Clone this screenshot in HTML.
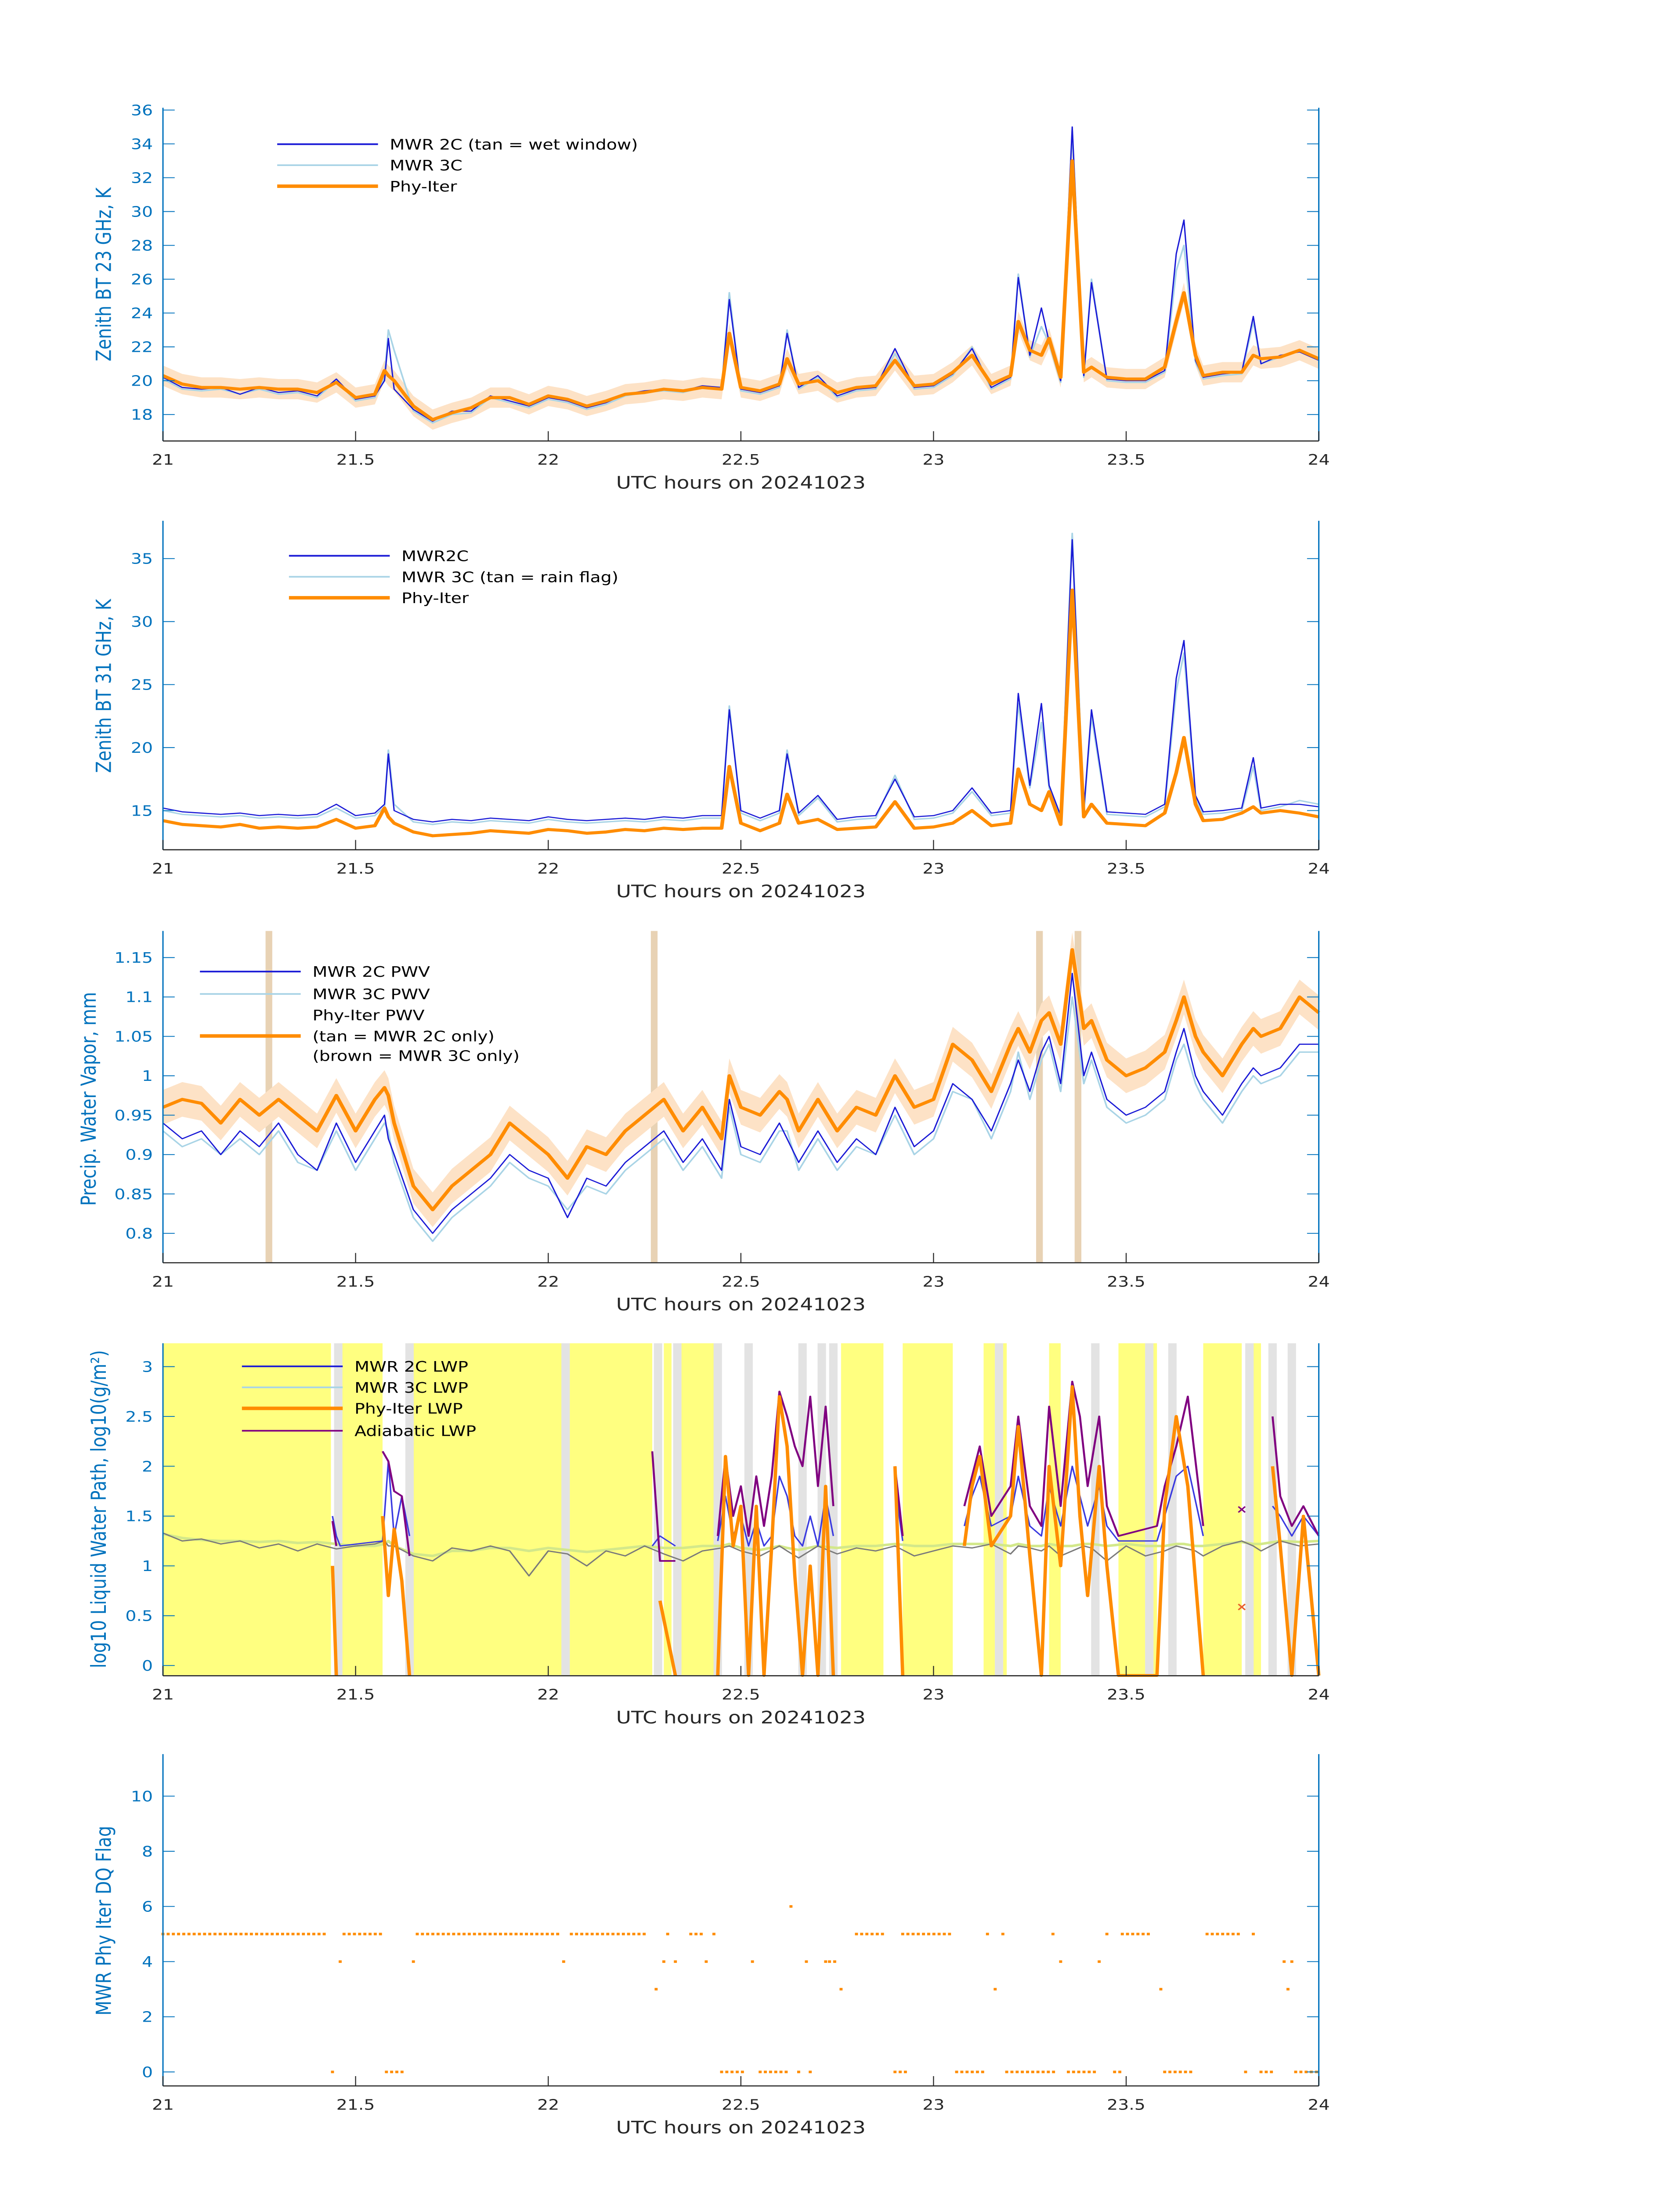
<!DOCTYPE html>
<html><head><meta charset="utf-8"><style>
html,body{margin:0;padding:0;background:#fff;overflow:hidden;width:100%;height:100%}
svg{display:block;width:100vw;height:100vh}
text{font-family:"DejaVu Sans","Liberation Sans",sans-serif}
</style></head><body>
<svg id="fig" xmlns="http://www.w3.org/2000/svg" viewBox="0 0 1000 1568.63" preserveAspectRatio="none"></svg>
<script>
// ---------- DATA ----------
const T = [21,21.05,21.1,21.15,21.2,21.25,21.3,21.35,21.4,21.45,21.5,21.55,21.575,21.585,21.6,21.65,21.7,21.75,21.8,21.85,21.9,21.95,22,22.05,22.1,22.15,22.2,22.25,22.3,22.35,22.4,22.45,22.47,22.5,22.55,22.6,22.62,22.65,22.7,22.75,22.8,22.85,22.9,22.95,23,23.05,23.1,23.15,23.2,23.22,23.25,23.28,23.3,23.33,23.36,23.39,23.41,23.45,23.5,23.55,23.6,23.63,23.65,23.68,23.7,23.75,23.8,23.83,23.85,23.9,23.95,24];
// panel 1: 23 GHz BT
const phy23 = [20.3,19.8,19.6,19.6,19.5,19.6,19.5,19.5,19.3,19.9,19.0,19.2,20.6,20.3,20.0,18.5,17.7,18.1,18.4,19.0,19.0,18.6,19.1,18.9,18.5,18.8,19.2,19.3,19.5,19.4,19.6,19.5,22.8,19.6,19.4,19.8,21.3,19.8,20.0,19.3,19.6,19.7,21.2,19.7,19.8,20.5,21.5,19.8,20.3,23.5,21.8,21.5,22.5,20.2,33.0,20.5,20.8,20.2,20.1,20.1,20.8,23.5,25.2,21.5,20.3,20.5,20.5,21.5,21.3,21.4,21.8,21.3];
const mwr2c23 = [20.2,19.6,19.5,19.6,19.2,19.6,19.3,19.4,19.1,20.1,18.9,19.1,20.0,22.5,19.5,18.3,17.6,18.2,18.2,19.1,18.8,18.5,19.0,18.8,18.4,18.7,19.2,19.4,19.5,19.4,19.7,19.6,24.8,19.5,19.3,19.7,22.8,19.6,20.3,19.1,19.5,19.6,21.9,19.6,19.7,20.4,21.9,19.6,20.2,26.1,21.5,24.3,22.3,20.0,35.0,20.3,25.8,20.1,20.0,20.0,20.6,27.5,29.5,21.2,20.2,20.4,20.5,23.8,21.0,21.5,21.7,21.2];
const mwr3c23 = [20.1,19.5,19.4,19.5,19.2,19.5,19.2,19.3,19.0,20.0,18.8,19.0,20.2,23.0,21.8,18.2,17.5,18.0,18.1,19.0,18.7,18.4,18.9,18.7,18.3,18.6,19.1,19.3,19.4,19.3,19.6,19.5,25.2,19.4,19.2,19.6,23.0,19.5,20.2,19.0,19.4,19.5,21.6,19.5,19.6,20.3,22.0,19.5,20.1,26.3,21.4,23.2,22.2,19.9,34.8,20.2,26.0,20.0,19.9,19.9,20.5,26.5,28.0,21.1,20.1,20.3,20.4,23.5,21.0,21.4,21.8,21.3];
// panel 2: 31 GHz BT
const phy31 = [14.2,13.9,13.8,13.7,13.9,13.6,13.7,13.6,13.7,14.3,13.6,13.8,15.2,14.5,14.0,13.3,13.0,13.1,13.2,13.4,13.3,13.2,13.5,13.4,13.2,13.3,13.5,13.4,13.6,13.5,13.6,13.6,18.5,14.0,13.4,14.0,16.3,14.0,14.3,13.5,13.6,13.7,15.7,13.6,13.7,14.0,15.0,13.8,14.0,18.3,15.5,15.0,16.5,13.9,32.5,14.5,15.5,14.0,13.9,13.8,14.8,18.0,20.8,15.5,14.2,14.3,14.8,15.3,14.8,15.0,14.8,14.5];
const mwr2c31 = [15.2,14.9,14.8,14.7,14.8,14.6,14.7,14.6,14.7,15.5,14.6,14.8,15.5,19.5,15.0,14.3,14.1,14.3,14.2,14.4,14.3,14.2,14.5,14.3,14.2,14.3,14.4,14.3,14.5,14.4,14.6,14.6,23.0,15.0,14.4,15.0,19.5,14.8,16.2,14.3,14.5,14.6,17.5,14.5,14.6,15.0,16.8,14.8,15.0,24.3,17.0,23.5,17.0,14.6,36.5,15.0,23.0,14.9,14.8,14.7,15.5,25.5,28.5,16.2,14.9,15.0,15.2,19.2,15.2,15.5,15.5,15.3];
const mwr3c31 = [15.0,14.7,14.6,14.5,14.6,14.4,14.5,14.4,14.5,15.2,14.4,14.6,15.3,19.8,15.5,14.1,13.9,14.1,14.0,14.2,14.1,14.0,14.3,14.1,14.0,14.1,14.2,14.1,14.3,14.2,14.4,14.4,23.3,14.8,14.2,14.8,19.8,14.6,16.0,14.1,14.3,14.4,17.8,14.3,14.4,14.8,16.5,14.6,14.8,23.5,16.8,22.0,16.8,14.4,37.0,14.8,22.5,14.7,14.6,14.5,15.3,24.5,27.5,16.0,14.7,14.8,15.0,18.5,15.0,15.3,15.8,15.5];
// panel 3: PWV
const phyPwv = [0.96,0.97,0.965,0.94,0.97,0.95,0.97,0.95,0.93,0.975,0.93,0.97,0.985,0.975,0.94,0.86,0.83,0.86,0.88,0.9,0.94,0.92,0.9,0.87,0.91,0.9,0.93,0.95,0.97,0.93,0.96,0.92,1.0,0.96,0.95,0.98,0.97,0.93,0.97,0.93,0.96,0.95,1.0,0.96,0.97,1.04,1.02,0.98,1.04,1.06,1.03,1.07,1.08,1.04,1.16,1.06,1.07,1.02,1.0,1.01,1.03,1.07,1.1,1.05,1.03,1.0,1.04,1.06,1.05,1.06,1.1,1.08];
const mwr2cPwv = [0.94,0.92,0.93,0.9,0.93,0.91,0.94,0.9,0.88,0.94,0.89,0.93,0.95,0.92,0.9,0.83,0.8,0.83,0.85,0.87,0.9,0.88,0.87,0.82,0.87,0.86,0.89,0.91,0.93,0.89,0.92,0.88,0.97,0.91,0.9,0.94,0.92,0.89,0.93,0.89,0.92,0.9,0.96,0.91,0.93,0.99,0.97,0.93,0.99,1.02,0.98,1.03,1.05,0.99,1.13,1.0,1.03,0.97,0.95,0.96,0.98,1.03,1.06,1.0,0.98,0.95,0.99,1.01,1.0,1.01,1.04,1.04];
const mwr3cPwv = [0.93,0.91,0.92,0.9,0.92,0.9,0.93,0.89,0.88,0.93,0.88,0.92,0.94,0.93,0.89,0.82,0.79,0.82,0.84,0.86,0.89,0.87,0.86,0.83,0.86,0.85,0.88,0.9,0.92,0.88,0.91,0.87,0.96,0.9,0.89,0.93,0.93,0.88,0.92,0.88,0.91,0.9,0.95,0.9,0.92,0.98,0.97,0.92,0.98,1.03,0.97,1.02,1.04,0.98,1.1,0.99,1.02,0.96,0.94,0.95,0.97,1.02,1.04,0.99,0.97,0.94,0.98,1.0,0.99,1.0,1.03,1.03];
const tanTimes = [21.275,22.275,23.275,23.375];
// panel 4: LWP
const lwpGrey = [1.33,1.25,1.27,1.22,1.25,1.18,1.22,1.15,1.22,1.17,1.2,1.22,1.25,1.2,1.2,1.1,1.05,1.18,1.15,1.2,1.15,0.9,1.15,1.12,1.0,1.15,1.1,1.2,1.12,1.05,1.15,1.18,1.2,1.15,1.1,1.2,1.15,1.08,1.2,1.12,1.18,1.15,1.2,1.1,1.15,1.2,1.18,1.22,1.12,1.2,1.18,1.15,1.2,1.1,1.15,1.2,1.18,1.05,1.2,1.1,1.15,1.2,1.18,1.15,1.1,1.2,1.25,1.2,1.15,1.25,1.2,1.22];
const lwpGreen = [1.32,1.28,1.26,1.25,1.25,1.24,1.25,1.23,1.24,1.22,1.2,1.2,1.22,1.25,1.2,1.12,1.1,1.15,1.15,1.18,1.18,1.15,1.18,1.16,1.14,1.16,1.18,1.2,1.18,1.18,1.2,1.2,1.22,1.18,1.16,1.2,1.18,1.16,1.2,1.18,1.2,1.2,1.22,1.2,1.2,1.22,1.22,1.22,1.2,1.22,1.2,1.2,1.22,1.2,1.2,1.22,1.22,1.2,1.22,1.2,1.2,1.22,1.22,1.2,1.2,1.22,1.24,1.22,1.22,1.25,1.24,1.25];
const yellowStart = [21.0,21.465,21.637,22.055,22.30,22.345,22.76,22.92,23.13,23.30,23.48,23.70,23.83];
const yellowEnd   = [21.436,21.57,22.04,22.27,22.32,22.43,22.87,23.05,23.19,23.33,23.58,23.80,23.85];
const greyBands = [21.455,21.64,22.045,22.285,22.335,22.44,22.52,22.66,22.71,22.74,23.17,23.42,23.56,23.62,23.82,23.88,23.93];
const TC = [21.44,21.45,21.46,21.57,21.585,21.6,21.62,21.64,21.65,22.27,22.29,22.33,22.34,22.44,22.46,22.48,22.5,22.52,22.54,22.56,22.58,22.6,22.62,22.64,22.66,22.68,22.7,22.72,22.74,22.76,22.9,22.92,23.05,23.08,23.1,23.12,23.15,23.2,23.22,23.25,23.28,23.3,23.33,23.36,23.38,23.4,23.43,23.45,23.48,23.58,23.6,23.63,23.66,23.7,23.8,23.85,23.88,23.9,23.93,23.96,24];
const lwpPhy = [1.0,-0.1,null,1.5,0.7,1.37,0.85,-0.1,null,null,0.65,-0.1,null,-0.1,2.1,1.2,1.6,-0.1,1.6,-0.1,1.2,2.7,2.2,0.9,-0.1,1.0,-0.1,1.8,-0.1,null,2.0,-0.1,null,1.2,1.8,2.1,1.2,1.5,2.4,1.1,-0.1,2.0,1.0,2.8,1.5,0.7,2.0,1.0,-0.1,-0.1,1.6,2.5,1.8,-0.1,null,null,2.0,1.2,-0.1,1.5,-0.1];
const lwpAdi = [1.45,1.2,null,2.15,2.05,1.75,1.7,1.1,null,2.15,1.05,1.05,null,1.3,2.1,1.5,1.8,1.3,1.9,1.4,1.9,2.75,2.5,2.2,2.0,2.7,1.8,2.6,1.6,null,2.0,1.3,null,1.6,1.9,2.2,1.5,1.8,2.5,1.6,1.4,2.6,1.6,2.85,2.5,1.8,2.5,1.6,1.3,1.4,1.8,2.2,2.7,1.4,null,null,2.5,1.7,1.4,1.6,1.3];
const lwpBlue = [1.5,1.3,1.2,1.25,2.05,1.3,1.7,1.3,null,1.2,1.3,1.2,null,1.25,1.7,1.3,1.5,1.2,1.45,1.2,1.3,1.9,1.7,1.3,1.2,1.5,1.2,1.7,1.3,null,1.8,1.25,null,1.4,1.7,1.9,1.4,1.5,1.9,1.4,1.3,1.8,1.4,2.0,1.7,1.4,1.8,1.4,1.25,1.25,1.5,1.9,2.0,1.3,null,null,1.6,1.5,1.3,1.5,1.3];
// panel 5: DQ flags (runs)
const runStart = [21.0,21.44,21.46,21.47,21.58,21.65,21.66,22.04,22.06,22.28,22.3,22.31,22.33,22.37,22.41,22.43,22.45,22.53,22.55,22.63,22.65,22.67,22.68,22.72,22.73,22.76,22.8,22.9,22.92,23.06,23.14,23.16,23.18,23.19,23.31,23.33,23.35,23.43,23.45,23.47,23.49,23.59,23.6,23.71,23.81,23.83,23.85,23.91,23.92,23.93,23.94];
const runEnd   = [21.43,21.44,21.46,21.57,21.63,21.65,22.03,22.04,22.26,22.28,22.3,22.31,22.34,22.4,22.41,22.43,22.51,22.53,22.62,22.63,22.65,22.67,22.68,22.72,22.75,22.76,22.87,22.93,23.05,23.13,23.14,23.16,23.18,23.32,23.31,23.33,23.42,23.43,23.45,23.49,23.57,23.59,23.68,23.8,23.81,23.83,23.88,23.91,23.92,23.93,24.0];
const runFlag  = [5,0,4,5,0,4,5,4,5,3,4,5,4,5,4,5,0,4,0,6,0,4,0,4,4,3,5,0,5,0,5,3,5,0,5,4,0,4,5,0,5,3,0,5,0,5,0,4,3,4,0];
const xTicks = [21,21.5,22,22.5,23,23.5,24];

// ---------- DRAW ----------
const NS = 'http://www.w3.org/2000/svg';
const fig = document.getElementById('fig');
function mk(tag, attrs, parent){
  const e = document.createElementNS(NS, tag);
  for (const k in attrs) e.setAttribute(k, attrs[k]);
  (parent||fig).appendChild(e);
  return e;
}
const X0 = 97, X1 = 785;
function xs(t){ return X0 + (t-21)/3*(X1-X0); }
function mkY(v1,p1,v2,p2){ return v => p1 + (v-v1)*(p2-p1)/(v2-v1); }
const BLUE = '#0072BD';

function path(ts, vs, y, color, w, name, g){
  let d = '', pen = false;
  for (let i=0;i<ts.length;i++){
    if (vs[i]===null){ pen=false; continue; }
    d += (pen?'L':'M') + xs(ts[i]).toFixed(2) + ',' + y(vs[i]).toFixed(2);
    pen = true;
  }
  const p = mk('path', {d:d, fill:'none', stroke:color, 'stroke-width':w, 'stroke-linejoin':'round'}, g);
  
  
  return p;
}
function band(ts, vs, dv, y, color, name, g){
  let up = '', dn = '';
  for (let i=0;i<ts.length;i++) up += (i?'L':'M') + xs(ts[i]).toFixed(2)+','+y(vs[i]+dv).toFixed(2);
  for (let i=ts.length-1;i>=0;i--) dn += 'L' + xs(ts[i]).toFixed(2)+','+y(vs[i]-dv).toFixed(2);
  const p = mk('path', {d:up+dn+'Z', fill:color, stroke:'none'}, g);
  
  
}
function axes(top, bot, y, yticks, ylab, ylabY, name){
  const g = mk('g', {});
  
  
  mk('line', {x1:X0,y1:top,x2:X0,y2:bot,stroke:BLUE,'stroke-width':0.8}, g);
  mk('line', {x1:X1,y1:top,x2:X1,y2:bot,stroke:BLUE,'stroke-width':0.8}, g);
  mk('line', {x1:X0,y1:bot,x2:X1,y2:bot,stroke:'#262626','stroke-width':0.8}, g);
  for (const v of yticks){
    const yy = y(v);
    mk('line', {x1:X0,y1:yy,x2:X0+7,y2:yy,stroke:BLUE,'stroke-width':0.6}, g);
    mk('line', {x1:X1,y1:yy,x2:X1-7,y2:yy,stroke:BLUE,'stroke-width':0.6}, g);
    const t = mk('text', {x:X0-6,y:yy+3.7,'text-anchor':'end','font-size':10.3,fill:BLUE}, g);
    t.textContent = String(v);
    
    
  }
  for (const v of xTicks){
    const xx = xs(v);
    mk('line', {x1:xx,y1:bot,x2:xx,y2:bot-7,stroke:'#262626','stroke-width':0.6}, g);
    const t = mk('text', {x:xx,y:bot+17,'text-anchor':'middle','font-size':10.3,fill:'#262626'}, g);
    t.textContent = String(v);
    
    
  }
  const xl = mk('text', {x:441,y:bot+34,'text-anchor':'middle','font-size':12.3,fill:'#262626'}, g);
  xl.textContent = 'UTC hours on 20241023';
  
  
  const yl = mk('text', {x:0,y:0,'text-anchor':'middle','font-size':12.3,fill:BLUE,transform:'translate('+ylabY[0]+','+ylabY[1]+') rotate(-90)'}, g);
  yl.textContent = ylab;
  
  
}
function legend(x0, ys, items, g){
  const lg = mk('g', {});
  
  
  items.forEach((it, i) => {
    if (it[1]) mk('line', {x1:x0,y1:ys[i],x2:x0+60,y2:ys[i],stroke:it[1],'stroke-width':it[2]}, lg);
    const t = mk('text', {x:x0+67,y:ys[i]+3.8,'font-size':10.3,fill:'#000'}, lg);
    t.textContent = it[0];
    
    
  });
}

// Panel 1
(function(){
  const y = mkY(36,78.6,18,296.1);
  const g = mk('g', {});  
  band(T, phy23, 0.6, y, '#fde2c6', 'phy-iter-uncertainty-band', g);
  path(T, mwr3c23, y, '#a9d4e6', 1.0, 'mwr-3c-line', g);
  path(T, mwr2c23, y, '#1a1ad6', 0.8, 'mwr-2c-line', g);
  path(T, phy23, y, '#ff8c00', 2.2, 'phy-iter-line', g);
  axes(77, 315, y, [18,20,22,24,26,28,30,32,34,36], 'Zenith BT 23 GHz, K', [66,196], 'panel-23ghz');
  legend(165, [103,118,133], [['MWR 2C (tan = wet window)','#1a1ad6',1.2],['MWR 3C','#a9d4e6',1.2],['Phy-Iter','#ff8c00',2.5]]);
})();
// Panel 2
(function(){
  const y = mkY(35,399,15,579);
  const g = mk('g', {});  
  path(T, mwr3c31, y, '#a9d4e6', 1.0, 'mwr-3c-line', g);
  path(T, mwr2c31, y, '#1a1ad6', 0.8, 'mwr-2c-line', g);
  path(T, phy31, y, '#ff8c00', 2.2, 'phy-iter-line', g);
  axes(372, 607, y, [15,20,25,30,35], 'Zenith BT 31 GHz, K', [66,490], 'panel-31ghz');
  legend(172, [397,412,427], [['MWR2C','#1a1ad6',1.2],['MWR 3C (tan = rain flag)','#a9d4e6',1.2],['Phy-Iter','#ff8c00',2.5]]);
})();
// Panel 3
(function(){
  const y = mkY(1.15,684,0.8,881);
  const g = mk('g', {});  
  for (const t of tanTimes){
    const r = mk('rect', {x:xs(t)-2,y:665,width:4,height:237,fill:'#e8d2b4'}, g);
    
    
  }
  band(T, phyPwv, 0.022, y, '#fde2c6', 'phy-iter-uncertainty-band', g);
  path(T, mwr3cPwv, y, '#a9d4e6', 1.0, 'mwr-3c-pwv-line', g);
  path(T, mwr2cPwv, y, '#1a1ad6', 0.8, 'mwr-2c-pwv-line', g);
  path(T, phyPwv, y, '#ff8c00', 2.2, 'phy-iter-pwv-line', g);
  axes(665, 902, y, [0.8,0.85,0.9,0.95,1,1.05,1.1,1.15], 'Precip. Water Vapor, mm', [57,785], 'panel-pwv');
  legend(119, [694,710,725,740,754], [['MWR 2C PWV','#1a1ad6',1.2],['MWR 3C PWV','#a9d4e6',1.2],['Phy-Iter PWV',null,0],['(tan = MWR 2C only)','#ff8c00',2.5],['(brown = MWR 3C only)',null,0]]);
})();
// Panel 4
(function(){
  const y = mkY(3,976.2,0,1189.7);
  const g = mk('g', {});  
  for (let i=0;i<yellowStart.length;i++){
    const r = mk('rect', {x:xs(yellowStart[i]),y:959.5,width:xs(yellowEnd[i])-xs(yellowStart[i]),height:237,fill:'#ffff80'}, g);
    
    
  }
  for (const t of greyBands){
    const r = mk('rect', {x:xs(t)-2.5,y:959.5,width:5,height:237,fill:'#e3e3e3'}, g);
    
    
  }
  path(T, lwpGreen, y, '#d3e88a', 1.8, 'mwr-3c-lwp-line', g);
  path(T, lwpGrey, y, '#7a7a7a', 0.9, 'mwr-2c-clear-lwp-line', g);
  path(TC, lwpBlue, y, '#3a3ae0', 0.9, 'mwr-2c-lwp-line', g);
  path(TC, lwpAdi, y, '#800080', 1.2, 'adiabatic-lwp-line', g);
  path(TC, lwpPhy, y, '#ff8c00', 2.0, 'phy-iter-lwp-line', g);
  const m = mk('text', {x:xs(23.8),y:y(0.6)+3.5,'text-anchor':'middle','font-size':8,fill:'#e8602c','font-weight':'bold'}, g);
  m.textContent = '×';
   
  const m2 = mk('text', {x:xs(23.8),y:y(1.58)+3.5,'text-anchor':'middle','font-size':8,fill:'#800080','font-weight':'bold'}, g);
  m2.textContent = '×';
   
  axes(959.5, 1197, y, [0,0.5,1,1.5,2,2.5,3], 'log10 Liquid Water Path, log10(g/m²)', [63,1078], 'panel-lwp');
  legend(144, [976,991,1006,1022], [['MWR 2C LWP','#1a1ad6',1.2],['MWR 3C LWP','#a9d4e6',1.2],['Phy-Iter LWP','#ff8c00',2.5],['Adiabatic LWP','#800080',1.2]]);
})();
// Panel 5
(function(){
  const y = mkY(10,1283,0,1480);
  const g = mk('g', {});  
  for (let i=0;i<runStart.length;i++){
    for (let t=runStart[i]; t<=runEnd[i]+1e-6; t+=0.0135){
      const c = mk('rect', {x:xs(t)-0.9,y:y(runFlag[i])-0.9,width:1.8,height:1.8,fill:'#ff8c00'}, g);
      
      
    }
  }
  axes(1253, 1490, y, [0,2,4,6,8,10], 'MWR Phy Iter DQ Flag', [66,1372], 'panel-dq-flag');
})();
</script>
</body></html>
